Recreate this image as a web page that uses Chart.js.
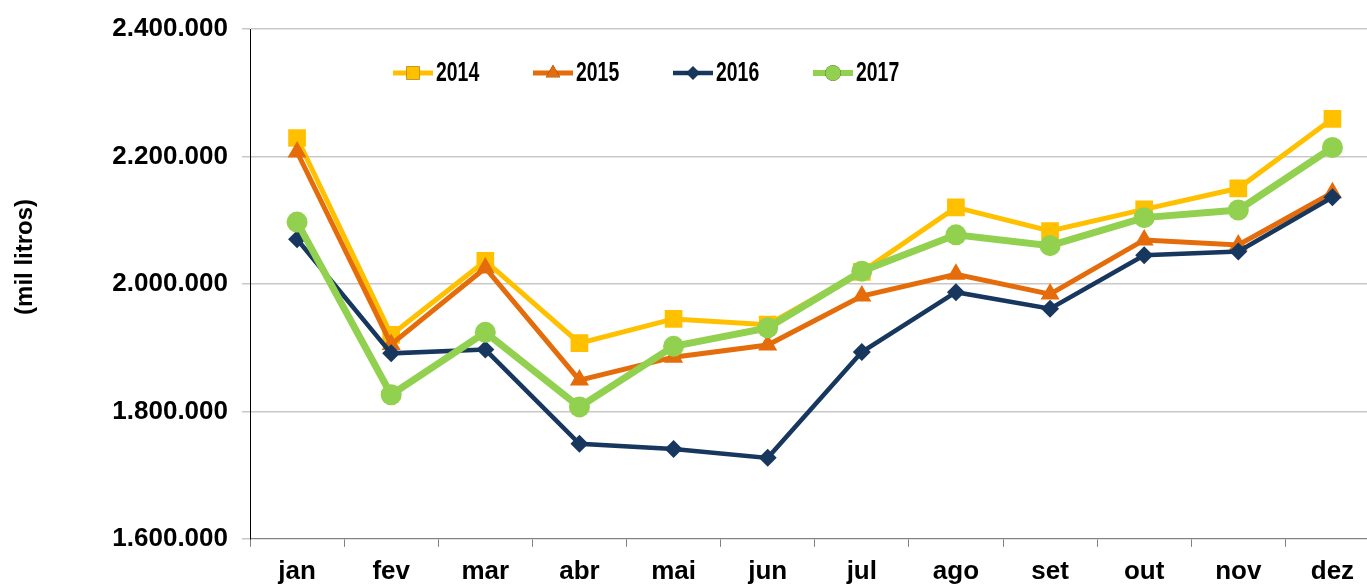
<!DOCTYPE html>
<html>
<head>
<meta charset="utf-8">
<script src="https://cdn.jsdelivr.net/npm/chart.js@4/dist/chart.umd.min.js"></script>
<style>
  html, body { margin: 0; padding: 0; background: #fff; overflow: hidden; }
  /* the source image crops the plot on the right, so the canvas is a bit wider than the window */
  #wrap { width: 1367px; height: 585px; overflow: hidden; }
</style>
</head>
<body>
<div id="wrap"><canvas id="c" width="1392" height="588"></canvas></div>
<script>
const months = ['jan', 'fev', 'mar', 'abr', 'mai', 'jun', 'jul', 'ago', 'set', 'out', 'nov', 'dez'];
const yTicks = [1600000, 1800000, 2000000, 2200000, 2400000];

const v2014 = [2229000, 1920000, 2036000, 1907000, 1945000, 1936000, 2019000, 2120000, 2083000, 2117000, 2150000, 2259000];
const v2015 = [2207000, 1905000, 2025000, 1849000, 1885000, 1904000, 1981000, 2015000, 1984000, 2069000, 2061000, 2143000];
const v2016 = [2070000, 1891000, 1897000, 1749000, 1741000, 1727000, 1893000, 1987000, 1961000, 2045000, 2051000, 2136000];
const v2017 = [2097000, 1826000, 1924000, 1807000, 1902000, 1931000, 2020000, 2077000, 2060000, 2104000, 2116000, 2214000];

const FONT = 'Arial, "Liberation Sans", sans-serif';

function fmt(v) {
  return String(v).replace(/\B(?=(\d{3})+(?!\d))/g, '.');
}

// y title sits a little above the middle of the axis, so draw it by hand
const yTitle = {
  id: 'yTitle',
  afterDraw(chart) {
    const ctx = chart.ctx;
    const area = chart.chartArea;
    ctx.save();
    ctx.translate(area.left - 225, (area.top + area.bottom) / 2 - 27);
    ctx.rotate(-Math.PI / 2);
    ctx.font = 'bold 24px ' + FONT;
    ctx.fillStyle = '#000';
    ctx.textAlign = 'center';
    ctx.textBaseline = 'middle';
    ctx.fillText('(mil litros)', 0, 0);
    ctx.restore();
  }
};

// legend drawn inside the plot: short line + marker + label (condensed text)
const lineLegend = {
  id: 'lineLegend',
  afterDraw(chart) {
    const ctx = chart.ctx;
    const area = chart.chartArea;
    const y = area.top + 44;
    let x = area.left + 143;
    chart.data.datasets.forEach((ds) => {
      ctx.save();
      ctx.strokeStyle = ds.borderColor;
      ctx.lineWidth = Math.min(ds.borderWidth, 6);
      ctx.beginPath();
      ctx.moveTo(x, y);
      ctx.lineTo(x + 40, y);
      ctx.stroke();
      Chart.helpers.drawPoint(ctx, {
        pointStyle: ds.pointStyle,
        radius: ds.pointRadius * 0.75,
        rotation: 0,
        borderWidth: 0
      }, x + 20, y);
      ctx.fillStyle = ds.borderColor;
      ctx.fill();
      ctx.fillStyle = '#000';
      ctx.font = 'bold 27px ' + FONT;
      ctx.textBaseline = 'middle';
      ctx.textAlign = 'left';
      ctx.translate(x + 43, y + 1);
      ctx.scale(0.72, 1);
      ctx.fillText(ds.label, 0, 0);
      ctx.restore();
      x += 140;
    });
  }
};

function series(label, data, color, style, radius, width, order) {
  return {
    label,
    data,
    order,
    borderColor: color,
    backgroundColor: color,
    pointBackgroundColor: color,
    pointBorderColor: color,
    pointBorderWidth: 0,
    pointStyle: style,
    pointRadius: radius,
    borderWidth: width,
    tension: 0,
    fill: false,
  };
}

new Chart(document.getElementById('c').getContext('2d'), {
  type: 'line',
  data: {
    labels: months,
    datasets: [
      series('2014', v2014, '#FFC000', 'rect', 12.5, 5, 3),
      series('2015', v2015, '#E46C0A', 'triangle', 11, 5, 2),
      series('2016', v2016, '#17375E', 'rectRot', 9, 4.5, 1),
      series('2017', v2017, '#92D050', 'circle', 10.5, 7, 0),
    ],
  },
  options: {
    responsive: false,
    animation: false,
    devicePixelRatio: 1,
    layout: { padding: { top: 29, right: 0, bottom: -8, left: 0 } },
    scales: {
      x: {
        offset: true,
        afterFit: (axis) => { axis.paddingLeft = 0; axis.paddingRight = 0; },
        border: { color: '#808080', width: 1 },
        grid: { offset: true, drawOnChartArea: false, tickLength: 8, color: '#808080' },
        ticks: { color: '#000', font: { family: FONT, size: 26, weight: 'bold' }, padding: 9, maxRotation: 0 },
      },
      y: {
        min: 1600000,
        max: 2400000,
        afterBuildTicks: (axis) => { axis.ticks = yTicks.map((v) => ({ value: v })); },
        afterFit: (axis) => { axis.width = 250; axis.paddingTop = 0; axis.paddingBottom = 0; },
        border: { color: '#000', width: 1 },
        grid: { color: '#C8C8C8', tickLength: 8, lineWidth: 1.5 },
        ticks: {
          color: '#000',
          font: { family: FONT, size: 26, weight: 'bold' },
          padding: 14,
          callback: (v) => fmt(v),
        },
      },
    },
    plugins: {
      legend: { display: false },
      tooltip: { enabled: false },
    },
  },
  plugins: [lineLegend, yTitle],
});
</script>
</body>
</html>
